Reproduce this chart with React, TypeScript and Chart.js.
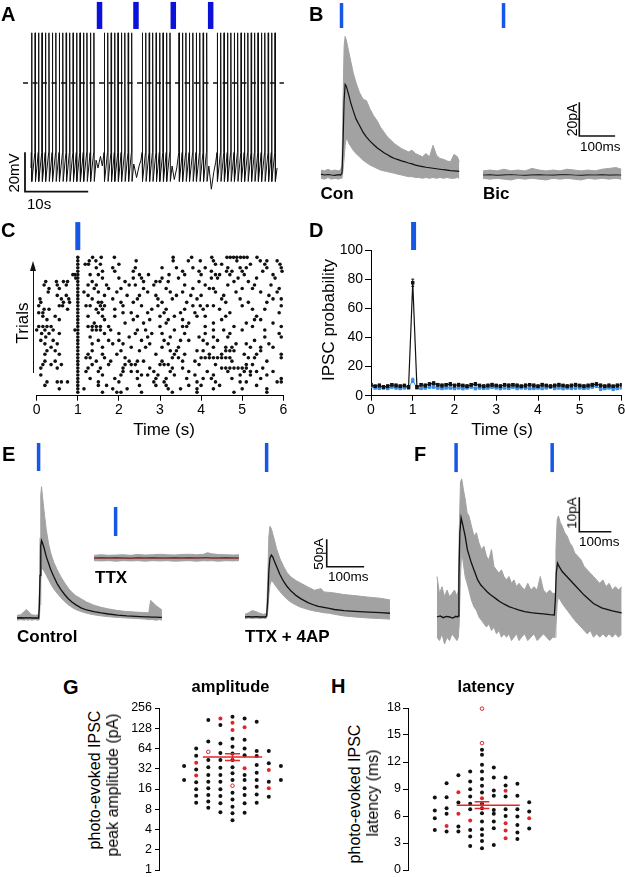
import React, { useEffect, useRef } from "react";
import { Chart, registerables } from "chart.js";

Chart.register(...registerables);

const FONT = "'Liberation Sans', Arial, Helvetica, sans-serif";
Chart.defaults.font.family = FONT;
Chart.defaults.color = "#000";

// ---------- colours ----------
const INK = "#111111";
const TRACE_GRAY = "#a2a2a2";
const STIM_A = "#0a12d8";
const STIM = "#1757e6";
const PROB_BLUE = "#3a8ee8";
const RED = "#e0262b";
const TTX_LINE = "#7d2f2f";

// ================= DATA =================
// ---- Panel A: spike train (s) ----
const spikeTimesA = [
  0.1, 0.66, 1.21, 1.77, 2.32, 2.88, 3.43, 3.99, 4.54, 5.1, 5.65, 6.21, 6.76, 7.32, 7.87, 8.43, 8.98, 9.54, 10.1,
  11.77, 12.32, 12.87, 13.42, 13.97, 14.51, 15.06, 15.61, 16.16,
  17.87, 18.42, 18.98, 19.53, 20.09, 20.64, 21.2, 21.75, 22.31,
  23.76, 24.31, 24.87, 25.42, 25.98, 26.53, 27.09, 27.64, 28.2,
  29.9, 30.45, 30.99, 31.54, 32.08, 32.63, 33.17, 33.72, 34.26, 34.81, 35.35, 35.9, 36.44, 36.99, 37.53, 38.08, 38.62, 39.17,
];
const stimTimesA = [11.0, 16.85, 22.84, 28.84];
const spikePeakA = 26; // mV
const spikeThresholdA = -36;
const spikeTroughA = -51;
const pauseTraceA: [number, number][] = [
  [0, -44],
  [10.45, -40], [10.75, -44], [11.15, -38], [11.45, -43],
  [16.5, -42], [16.95, -49], [17.35, -43], [17.65, -40],
  [22.65, -43], [23.0, -50], [23.4, -44],
  [28.55, -43], [28.95, -55], [29.35, -46], [29.65, -41],
  [39.5, -44],
];

// ---- Panel B: IPSCs (ms, pA) ----
const conTimes = [0, 10, 20, 30, 40, 50, 56, 60, 63, 66, 69, 72, 76, 80, 86, 92, 100, 110, 120, 130, 140, 150, 160, 170, 180, 190, 200, 210, 220, 230, 240, 250, 260, 270, 280, 290, 300, 310, 320, 330, 340, 350, 360, 370, 380, 390, 395];
const conMean = [0.5, 0, 0.3, 0, -0.2, 0.2, 0, 1, 20, 45, 55, 54, 51, 48, 43, 39, 34, 30, 26, 23, 20.5, 18.5, 16.5, 15, 13.5, 12.3, 11, 10, 9.3, 8.6, 8, 7.3, 6.7, 6, 5.5, 5.1, 4.7, 4.4, 4.1, 3.8, 3.5, 3.2, 3, 2.7, 2.5, 2.3, 2.2];
const conUpper = [3, 2.5, 3.5, 2.5, 3, 2.5, 3, 6, 45, 78, 84, 82, 78, 74, 68, 62, 56, 50, 46, 45, 40, 36, 33, 29, 26, 23, 21, 19, 17.5, 16, 15, 14, 15, 13, 12, 11, 13, 11, 18, 12, 10, 9.5, 8.5, 8, 12.5, 11, 8];
const conLower = [-2, -2.5, -1.5, -2.5, -2, -2.5, -2, -2, 3, 10, 18, 22, 21, 19, 17, 15, 13, 11, 9, 7.5, 6, 5, 4, 3, 2.5, 2, 1.5, 1, 0.5, 0, -0.5, -1, -1, -1.5, -1.5, -2, -1.5, -2, -1.5, -2, -1.5, -2, -1.5, -2, -2, -1.5, -2];
const bicTimes = [0, 20, 40, 60, 80, 100, 120, 140, 160, 180, 200, 220, 240, 260, 280, 300, 320, 340, 360, 380, 395];
const bicMean = [0, 0.2, -0.2, 0.1, 0.3, 0, -0.2, 0.1, 0.2, 0, -0.1, 0.2, 0.3, 0, -0.2, 0.1, 0, 0.2, -0.1, 0.1, 0];
const bicUpper = [2.5, 3, 2.5, 3.5, 2.5, 3, 2.5, 4, 3, 2.5, 3, 2.5, 3.5, 3, 2.5, 3, 2.5, 3.5, 4, 4.5, 3.5];
const bicLower = [-2, -2.5, -2, -2.5, -3, -2, -2.5, -2, -2.5, -3, -2, -2.5, -2, -2.5, -3, -2, -2.5, -2, -2.5, -2, -2.5];
const bStim = 58.6;

// ---- Panel C: raster (s), one row per trial, top trial first ----
const rasterTrials: number[][] = [
  [1.0, 1.36, 1.57, 1.89, 3.32, 3.77, 4.26, 4.63, 4.71, 4.79, 4.87, 4.96, 5.04, 5.12, 5.36],
  [1.0, 1.28, 1.44, 2.42, 3.32, 3.69, 3.98, 4.3, 4.87, 5.44, 5.6, 5.85],
  [1.0, 1.18, 1.26, 1.55, 2.0, 4.35, 4.5, 5.2, 5.55, 5.92],
  [1.0, 1.45, 1.85, 2.4, 3.05, 3.4, 3.8, 4.1, 4.65, 4.95, 5.1, 5.6, 5.95],
  [1.0, 1.6, 1.9, 2.35, 3.55, 3.95, 4.25, 4.62, 4.75, 5.0, 5.5, 5.97],
  [0.88, 0.93, 1.0, 1.3, 1.5, 2.5, 2.72, 3.22, 3.6, 4.0, 4.35, 4.45, 4.7, 5.05, 5.75],
  [0.95, 1.0, 1.6, 2.0, 2.35, 2.55, 3.05, 3.45, 4.25, 4.4, 4.9, 5.35, 5.8],
  [0.22, 0.48, 0.65, 0.75, 1.0, 1.35, 2.15, 2.6, 2.9, 3.0, 3.2, 3.95, 4.8, 5.15],
  [0.18, 0.5, 0.72, 1.0, 1.25, 1.45, 1.7, 2.25, 2.4, 2.85, 3.6, 4.1, 4.65, 5.3, 5.7],
  [0.3, 0.55, 1.0, 1.4, 1.75, 2.05, 2.6, 3.15, 3.8, 4.2, 4.3, 5.0, 5.25, 5.9],
  [0.28, 1.0, 1.15, 1.5, 1.95, 2.7, 3.25, 3.55, 4.35, 4.85, 5.45, 5.85],
  [0.5, 0.72, 1.0, 1.25, 1.65, 2.2, 2.5, 2.9, 3.4, 3.75, 4.0, 4.55, 5.65],
  [0.08, 0.6, 0.78, 1.0, 1.35, 1.85, 2.45, 2.95, 3.3, 3.9, 4.5, 4.95, 5.75, 5.95],
  [0.1, 0.65, 0.8, 1.0, 1.5, 1.58, 2.05, 2.35, 3.05, 3.65, 4.6, 5.15, 5.6],
  [0.05, 0.55, 0.63, 1.0, 1.2, 1.3, 1.55, 1.65, 2.1, 2.55, 2.95, 3.8, 3.98, 4.15, 4.3, 5.0, 5.95],
  [0.18, 0.3, 0.75, 1.0, 1.45, 1.6, 1.9, 2.8, 3.15, 3.6, 4.05, 4.45, 5.25, 5.55],
  [0.05, 0.15, 1.0, 1.5, 2.1, 2.3, 2.7, 3.1, 3.5, 3.85, 4.7, 5.9],
  [0.15, 0.45, 1.0, 1.25, 1.6, 1.9, 2.45, 3.0, 3.35, 3.9, 4.1, 4.6, 5.35],
  [0.25, 0.55, 1.0, 1.65, 2.35, 2.75, 3.2, 3.55, 4.5, 5.3, 5.45],
  [1.0, 1.4, 2.15, 2.6, 3.15, 3.7, 4.3, 5.1, 5.75],
  [0.05, 0.15, 0.25, 0.35, 1.0, 1.25, 1.35, 1.45, 1.55, 1.75, 3.0, 3.55, 3.65, 4.1, 4.8, 5.25, 5.95],
  [0.0, 0.2, 0.4, 0.93, 1.0, 1.35, 1.45, 1.55, 1.8, 2.45, 2.65, 3.35, 4.3, 4.55, 5.0, 5.55],
  [0.12, 0.3, 0.55, 1.0, 1.65, 2.0, 2.4, 2.8, 3.05, 3.6, 4.1, 4.7, 5.9],
  [0.22, 1.0, 1.3, 2.25, 2.7, 3.25, 3.95, 4.3, 4.65, 5.55, 5.95],
  [0.1, 0.4, 1.0, 1.5, 1.75, 2.0, 2.55, 3.1, 3.5, 3.7, 4.05, 4.4, 5.3],
  [0.2, 0.5, 1.0, 1.35, 1.85, 2.1, 2.75, 3.2, 4.15, 4.85, 5.1, 5.65],
  [0.35, 1.0, 1.6, 2.3, 2.65, 3.05, 3.45, 4.3, 4.6, 4.75, 5.2, 5.45, 5.75],
  [0.25, 0.45, 1.0, 1.35, 2.05, 2.5, 3.25, 3.4, 3.9, 4.05, 4.6, 4.7, 4.8, 5.45],
  [0.2, 0.55, 1.0, 1.25, 1.6, 1.95, 2.9, 3.35, 3.6, 4.2, 4.5, 5.05, 5.35, 5.95],
  [1.0, 1.2, 1.3, 1.65, 2.15, 3.3, 3.45, 4.0, 4.1, 4.2, 4.3, 4.4, 4.5, 4.6, 4.7, 5.15, 5.3, 5.95],
  [0.2, 0.45, 1.0, 1.45, 1.8, 2.25, 2.45, 2.6, 3.05, 3.55, 3.85, 4.75, 5.6],
  [0.15, 0.35, 0.6, 1.0, 1.35, 1.75, 2.15, 2.3, 2.4, 3.0, 3.1, 3.2, 3.95, 4.35, 5.1, 5.25],
  [0.1, 0.5, 1.0, 1.25, 1.55, 2.1, 2.75, 3.3, 3.55, 4.5, 4.6, 4.7, 4.8, 4.9, 5.0, 5.1, 5.5],
  [1.0, 1.2, 1.5, 2.1, 2.3, 2.45, 2.85, 3.25, 3.7, 4.15, 4.65, 5.05, 5.2, 5.35, 5.75],
  [0.1, 1.0, 1.6, 2.05, 2.55, 2.7, 2.95, 3.35, 3.85, 4.3, 4.95, 5.2, 5.6],
  [1.0, 1.3, 1.9, 2.45, 2.9, 3.15, 3.65, 4.05, 4.25, 4.75, 5.45, 5.95],
  [0.25, 0.5, 0.6, 0.75, 1.0, 1.5, 2.0, 2.85, 3.1, 3.9, 4.35, 4.95, 5.1, 5.85, 5.95],
  [0.2, 1.0, 1.5, 1.7, 2.5, 2.9, 3.15, 3.7, 4.0, 4.45, 5.35],
  [0.55, 1.0, 1.15, 1.85, 2.2, 3.2, 3.5, 3.9, 4.3, 5.0, 5.6],
  [1.0, 1.6, 1.95, 2.05, 2.55, 3.3, 3.9, 4.8, 5.6],
];
const timeTicks = [0, 1, 2, 3, 4, 5, 6];
const stimTimeCD = 1.0;

// ---- Panel D: IPSC probability (%) per 100 ms bin ----
const probBins = [0, 0.1, 0.2, 0.3, 0.4, 0.5, 0.6, 0.7, 0.8, 0.9, 1.0, 1.1, 1.2, 1.3, 1.4, 1.5, 1.6, 1.7, 1.8, 1.9, 2.0, 2.1, 2.2, 2.3, 2.4, 2.5, 2.6, 2.7, 2.8, 2.9, 3.0, 3.1, 3.2, 3.3, 3.4, 3.5, 3.6, 3.7, 3.8, 3.9, 4.0, 4.1, 4.2, 4.3, 4.4, 4.5, 4.6, 4.7, 4.8, 4.9, 5.0, 5.1, 5.2, 5.3, 5.4, 5.5, 5.6, 5.7, 5.8, 5.9, 6.0];
const probBlack = [7.5, 6.5, 7, 6, 6.5, 7.5, 7, 6.5, 7, 6, 77.5, 6, 7.5, 7, 8, 8.5, 7.5, 7, 7.5, 8, 7, 7.5, 7, 6.5, 7.5, 8, 7, 6.5, 7, 7.5, 7, 6.5, 7.5, 7, 7.5, 7, 6.5, 7, 7.5, 7, 6.5, 7.5, 7, 6.5, 7, 7.5, 7, 6.5, 7, 7.5, 7, 6.5, 7, 7.5, 8, 7, 6.5, 7, 6.5, 7, 7.5];
const semBlack = [1, 0.8, 1, 0.9, 1, 0.8, 1, 0.9, 0.8, 1, 2.5, 1, 0.9, 1, 0.8, 1, 0.9, 1, 0.8, 1, 0.9, 1, 0.8, 1, 0.9, 1, 0.8, 1, 0.9, 1, 0.8, 1, 0.9, 1, 0.8, 1, 0.9, 1, 0.8, 1, 0.9, 1, 0.8, 1, 0.9, 1, 0.8, 1, 0.9, 1, 0.8, 1, 0.9, 1, 0.8, 1, 0.9, 1, 0.8, 1, 0.9];
const probBlue = [6.5, 5.5, 5, 5.5, 5, 6, 5.5, 5, 5.5, 5.5, 10.5, 5.5, 5, 5.5, 6, 6, 5.5, 5, 5.5, 5.5, 5, 5.5, 5, 5.5, 6, 5, 5.5, 5, 5.5, 6, 5.5, 5, 5.5, 5, 6, 5, 5.5, 5.5, 5, 5, 5.5, 5, 5.5, 6, 5, 5.5, 5, 5.5, 5, 5.5, 5.5, 5, 5.5, 6, 6.5, 4.5, 5, 5.5, 4.5, 5, 5.5];
const semBlue = [1, 0.9, 0.8, 1, 0.9, 0.8, 1, 0.9, 0.8, 1, 1.5, 0.9, 0.8, 1, 0.9, 0.8, 1, 0.9, 0.8, 1, 0.9, 0.8, 1, 0.9, 0.8, 1, 0.9, 0.8, 1, 0.9, 0.8, 1, 0.9, 0.8, 1, 0.9, 0.8, 1, 0.9, 0.8, 1, 0.9, 0.8, 1, 0.9, 0.8, 1, 0.9, 0.8, 1, 0.9, 0.8, 1, 0.9, 0.8, 1, 0.9, 0.8, 1, 0.9, 0.8];
const probTicks = [0, 20, 40, 60, 80, 100];

// ---- Panel E: Control / TTX / TTX + 4AP (ms, pA) ----
const ctrlTimes = [0, 10, 20, 25, 30, 35, 40, 50, 56, 59, 61, 63, 65, 67, 70, 74, 80, 86, 92, 100, 110, 120, 130, 140, 150, 160, 175, 190, 210, 230, 250, 275, 300, 325, 350, 360, 365, 370, 380, 390, 396];
const ctrlMean = [0, 0.5, 0, 0.5, 0, 0.5, 0, 0.3, 0, 0, 20, 80, 135, 145, 140, 131, 115, 103, 91, 78, 64, 53, 44, 36, 30, 25, 19, 15, 12, 9.5, 7.5, 5.5, 4, 3, 2.2, 2, 1.8, 1.7, 1.5, 1.2, 1];
const ctrlUpper = [5, 6, 12, 16, 13, 9, 6, 5, 6, 6, 50, 150, 230, 246, 225, 200, 165, 140, 122, 105, 90, 77, 66, 56, 48, 42, 36, 30, 24, 20, 17, 14, 12, 11, 10, 10, 33, 30, 23, 18, 15];
const ctrlLower = [-4, -3, -4, -3, -4, -3, -4, -3, -4, -4, -3, 25, 70, 90, 92, 88, 80, 72, 64, 55, 46, 38, 31, 25, 20, 16, 12, 9, 6, 4, 2.5, 1, 0, -1, -2, -3, -3, -3, -4, -3, -4];
const ttxTimes = [0, 20, 40, 60, 80, 100, 120, 140, 160, 180, 200, 220, 240, 260, 280, 300, 310, 320, 340, 360, 380, 396];
const ttxMean = [0, 0.3, -0.2, 0.2, 0, -0.3, 0.2, 0, 0.3, -0.2, 0, 0.2, -0.2, 0.3, 0, 0.2, 0.3, 0, -0.2, 0.2, 0, 0.1];
const ttxUpper = [5, 6, 5, 5.5, 6, 5, 6.5, 5.5, 6, 7, 6, 5.5, 6.5, 7, 6, 7, 10, 8, 6.5, 6, 5.5, 6];
const ttxLower = [-5, -5.5, -5, -6, -5, -5.5, -5, -6, -5, -5.5, -5, -6, -5.5, -5, -6, -5, -5.5, -5, -6, -5, -5.5, -5];
const apTimes = [0, 10, 20, 30, 40, 50, 56, 59, 62, 65, 68, 72, 76, 80, 86, 95, 105, 115, 125, 140, 153, 172, 190, 200, 208, 215, 230, 244, 270, 300, 339, 370, 396];
const apMean = [0, 0.5, 0, 0.5, 0, 0.3, 0, 2, 30, 85, 110, 116, 112, 105, 95, 80, 67, 57, 49, 40, 34, 27, 22, 20, 19, 18, 16, 14, 12, 10.5, 9, 8, 7];
const apUpper = [5, 8, 12, 10, 7, 5, 6, 8, 70, 150, 170, 165, 155, 145, 128, 110, 95, 83, 75, 68, 63, 56, 50, 52, 53, 47, 46, 45, 42, 40, 37, 35, 32];
const apLower = [-3, -2, -3, -2, -3, -2, -3, -2, 10, 40, 60, 68, 66, 62, 56, 48, 40, 33, 28, 22, 18, 14, 11, 10, 9, 8, 7, 5, 2, 0, -2, -3, -4];
const eStim = 59;

// ---- Panel F: paired light pulses (ms, pA) ----
const fTimes = [0, 10, 20, 30, 40, 50, 60, 66, 68, 70, 73, 77, 82, 90, 97, 110, 120, 130, 140, 150, 160, 170, 180, 190, 200, 215, 230, 245, 260, 280, 300, 320, 340, 360, 375, 378, 381, 385, 390, 400, 420, 440, 470, 500, 526, 560, 590];
const fMean = [0, 0.3, -0.2, 0.2, 0, -0.3, 0.2, 0, 0.3, 12, 25, 29.5, 27.5, 24, 20, 16, 13.5, 11, 9.5, 8.5, 7.5, 6.7, 6, 5.3, 4.6, 3.8, 3.1, 2.6, 2.1, 1.6, 1.3, 1.1, 0.9, 0.7, 0.6, 5, 13, 16, 15, 13.5, 11.5, 9.5, 6.5, 4, 2.7, 1.8, 1.2];
const fBandTimes = [0, 8, 16, 24, 32, 40, 48, 56, 64, 68, 71, 75, 79, 84, 90, 96, 102, 110, 118, 126, 134, 142, 150, 158, 166, 174, 182, 190, 198, 206, 214, 222, 230, 238, 246, 254, 262, 270, 280, 290, 300, 310, 320, 330, 340, 350, 360, 370, 377, 380, 384, 388, 394, 400, 408, 416, 424, 432, 440, 450, 460, 470, 480, 490, 500, 510, 520, 530, 540, 550, 560, 570, 580, 590];
const fUpper = [12, 7, 9, 6, 8, 6, 7, 8, 6, 8, 25, 40, 41, 38, 35, 31, 30, 27, 24, 25, 22, 20, 21, 18, 17, 20, 15, 14, 13, 14, 12, 11, 12, 10, 11, 9, 10, 9, 8, 10, 8, 9, 8, 12, 8, 7, 8, 7, 7, 20, 29, 30, 28, 27, 25, 24, 22, 21, 19, 18, 17, 15, 14, 13, 12, 11, 10, 11, 9, 10, 8, 9, 8, 9];
const fLower = [-6, -7, -5, -8, -6, -7, -5, -6, -7, -6, -2, 12, 20, 16, 12, 10, 8, 5, 3, 2, 0, -1, -2, -3, -2, -4, -3, -5, -4, -6, -5, -6, -5, -7, -6, -5, -7, -6, -5, -7, -6, -5, -7, -6, -5, -6, -7, -6, -6, -3, 4, 6, 5, 4, 3, 2, 1, 0, -1, -2, -3, -4, -5, -4, -6, -5, -6, -5, -6, -5, -6, -5, -6, -5];
const fStim = [61, 368];

// ---- Panel G: amplitude (pA), dots per swarm column ----
const ampBlack: number[][] = [
  [35.2, 21.8],
  [64, 50, 31.3, 20.1, 15.8, 12.7, 10],
  [170, 81, 43, 33.6, 25.8, 20.5, 16.4, 13, 10.4, 8.4],
  [143, 76, 55, 43, 33.2, 25.8, 20.5, 15.8, 12.6, 9.8, 7.2],
  [190, 89, 68, 54, 43, 33.6, 27.4, 21.8, 14.1, 11.2, 8.7, 7, 5.5],
  [178, 86, 64, 51, 25.8, 21.8, 16.4, 13, 9.8, 7.1],
  [160, 59, 49.5, 36.4, 28, 21.8, 17.3, 13.3, 10],
  [59, 38.6, 20.5, 12.3],
  [35.2, 21.8],
];
const ampRed: number[][] = [[], [39.4, 25.3], [], [178], [155, 121], [132, 32.5], [], [30.7, 16.4], []];
const ampOpen: number[][] = [[], [], [57], [], [17.9], [], [], [], []];
const ampMean = 48;
const ampSem = 5.7;
const ampTicks = [1, 2, 4, 8, 16, 32, 64, 128, 256];

// ---- Panel H: latency (ms), dots per swarm column ----
const latBlack: number[][] = [
  [8.06, 6.6, 5.75, 4.45],
  [9.65, 8.09, 6.87, 6.24, 4.27],
  [10.54, 7.5, 4.83, 4.27],
  [10.95, 9.84, 8.98, 8.17, 7.35, 6.76, 4.45, 3.71, 2.67],
  [13.36, 12.81, 11.69, 10.95, 10.1, 9.35, 8.61, 7.35, 6.87, 6.31, 5.38, 4.53, 3.9, 3.23, 2.41],
  [11.4, 10.28, 8.83, 8.24, 6.68, 6.24, 5.38, 4.64, 2.78],
  [10.28, 9.39, 8.17, 6.76, 6.01],
  [9.58, 8.24, 6.76, 5.94, 5.01, 4.16, 3.45],
  [7.54, 6.5, 4.6],
];
const latRed: number[][] = [[], [4.9], [8.65, 6.24], [5.49], [7.98], [], [8.8, 5.2, 4.38, 3.53], [], [5.75]];
const latOpen: number[][] = [[], [], [], [], [17.93, 14.1], [], [], [], []];
const latMean = 7.2;
const latSem = 0.37;
const latTicks = [0, 3, 6, 9, 12, 15, 18];

// ================= LAYOUT (page pixels -> axis ranges) =================
const BOX_A = { left: 0, top: 0, width: 300, height: 200 };
const BOX_B = { left: 305, top: 0, width: 320, height: 200 };
const BOX_C = { left: 0, top: 210, width: 300, height: 235 };
const BOX_D = { left: 305, top: 210, width: 320, height: 235 };
const BOX_E = { left: 0, top: 430, width: 400, height: 220 };
const BOX_F = { left: 410, top: 430, width: 215, height: 230 };
const BOX_G = { left: 120, top: 690, width: 185, height: 187 };
const BOX_H = { left: 375, top: 690, width: 200, height: 187 };

const BIC_OFFSET = 462.9; // ms shift of the Bic trace
const TTX_DX = 210.4;
const TTX_DY = 112.4;
const AP_DX = 623;
const AP_DY = 1.9;

// ================= helpers =================
type P = { x: number; y: number | null };
const series = (t: number[], v: number[], dx = 0, dy = 0): P[] => t.map((ti, i) => ({ x: ti + dx, y: v[i] + dy }));

const line = (data: P[], color: string, width: number, order: number, extra: Record<string, unknown> = {}) => ({
  type: "line",
  data,
  borderColor: color,
  backgroundColor: color,
  borderWidth: width,
  pointRadius: 0,
  pointHoverRadius: 0,
  tension: 0,
  fill: false,
  order,
  ...extra,
});

const band = (t: number[], lo: number[], hi: number[], dx = 0, dy = 0) => [
  line(series(t, lo, dx, dy), TRACE_GRAY, 1, 3),
  line(series(t, hi, dx, dy), TRACE_GRAY, 1, 3, { fill: "-1", backgroundColor: TRACE_GRAY }),
];

const vbar = (x: number, y0: number, y1: number, color: string, width: number) =>
  line([{ x, y: y0 }, { x, y: y1 }], color, width, 0, { clip: false, borderCapStyle: "butt" });

const scaleBar = (x: number, y: number, dy: number, dx: number, w = 1.6) =>
  line([{ x, y: y + dy }, { x, y }, { x: x + dx, y }], INK, w, 0, { clip: false, borderCapStyle: "square" });

const errorBars = (t: number[], m: number[], s: number[], cap: number): P[] => {
  const out: P[] = [];
  t.forEach((x, i) => {
    const lo = m[i] - s[i];
    const hi = m[i] + s[i];
    out.push({ x, y: lo }, { x, y: hi }, { x, y: null });
    out.push({ x: x - cap, y: hi }, { x: x + cap, y: hi }, { x, y: null });
    out.push({ x: x - cap, y: lo }, { x: x + cap, y: lo }, { x, y: null });
  });
  return out;
};

const swarm = (cols: number[][]): P[] => cols.flatMap((vals, c) => vals.map((v) => ({ x: c - (cols.length - 1) / 2, y: v })));

const baseOptions = (scales: any, padding: any = 0) => ({
  responsive: false,
  animation: false,
  events: [],
  layout: { padding, autoPadding: false },
  plugins: { legend: { display: false }, tooltip: { enabled: false }, title: { display: false } },
  scales,
});

const hidden = (x0: number, x1: number, y0: number, y1: number) => ({
  x: { type: "linear", display: false, min: x0, max: x1 },
  y: { type: "linear", display: false, min: y0, max: y1 },
});

const axisX = (h: number) => ({
  type: "linear",
  min: timeTicks[0],
  max: timeTicks[timeTicks.length - 1],
  afterBuildTicks: (s: any) => {
    s.ticks = timeTicks.map((v) => ({ value: v }));
  },
  ticks: { font: { size: 14, lineHeight: 1 }, padding: 2, color: "#000", maxRotation: 0, autoSkip: false },
  grid: { display: true, drawOnChartArea: false, drawTicks: true, tickLength: 5, color: "#000", lineWidth: 1 },
  border: { display: true, color: "#000", width: 1 },
  afterFit: (s: any) => {
    s.height = h;
    s.paddingLeft = 0;
    s.paddingRight = 0;
  },
});

const axisY = (base: any, tickValues: number[], w: number, tickLen: number, pad: number, size: number) => ({
  ...base,
  afterBuildTicks: (s: any) => {
    s.ticks = tickValues.map((v) => ({ value: v }));
  },
  ticks: { font: { size, lineHeight: 1 }, padding: pad, color: "#000", callback: (v: any) => String(v), autoSkip: false },
  grid: { display: true, drawOnChartArea: false, drawTicks: true, tickLength: tickLen, color: "#000", lineWidth: 1 },
  border: { display: true, color: "#000", width: 1 },
  afterFit: (s: any) => {
    s.width = w;
    s.paddingTop = 0;
    s.paddingBottom = 0;
  },
});

// ================= chart configs =================
const buildSpikeTrain = (): P[] => {
  const p: { x: number; y: number }[] = [];
  spikeTimesA.forEach((t) => {
    p.push({ x: t - 0.04, y: spikeThresholdA });
    p.push({ x: t, y: spikePeakA });
    p.push({ x: t + 0.06, y: spikeTroughA });
  });
  pauseTraceA.forEach(([x, y]) => p.push({ x, y }));
  return p.sort((a, b) => a.x - b.x);
};

const makeA = () => ({
  type: "line",
  data: {
    datasets: [
      line(buildSpikeTrain(), INK, 1, 1),
      line([{ x: -1.28, y: 0 }, { x: 40.6, y: 0 }], INK, 1.3, 2, { borderDash: [5, 4.5] }),
      scaleBar(-0.963, -56.3, 20, 10, 1.8),
      ...stimTimesA.map((t) => vbar(t, 28, 42, STIM_A, 5.5)),
    ],
  },
  options: baseOptions(hidden(-4.976, 43.18, -60.6, 43.0)),
});

const makeB = () => ({
  type: "line",
  data: {
    datasets: [
      ...band(conTimes, conLower, conUpper),
      line(series(conTimes, conMean), INK, 1.2, 1),
      ...band(bicTimes, bicLower, bicUpper, BIC_OFFSET),
      line(series(bicTimes, bicMean, BIC_OFFSET), "#333", 1.2, 1),
      vbar(bStim, 89.1, 104.2, STIM, 3.5),
      vbar(BIC_OFFSET + bStim, 89.1, 104.2, STIM, 3.5),
      scaleBar(738, 23.6, 20, 100),
    ],
  },
  options: baseOptions(hidden(-45.71, 868.57, -15.15, 106.06)),
});

const makeC = () => ({
  type: "scatter",
  data: {
    datasets: [
      {
        data: rasterTrials.flatMap((row, i) => row.map((t) => ({ x: t, y: rasterTrials.length - i }))),
        pointRadius: 1.8,
        pointHoverRadius: 0,
        backgroundColor: INK,
        borderWidth: 0,
        order: 1,
        clip: false,
      },
      vbar(stimTimeCD, 42.1, 50.2, STIM, 5),
    ],
  },
  options: baseOptions(
    { x: axisX(49.3), y: { type: "linear", display: false, min: 0.017, max: 53.69 } },
    { left: 36.7, right: 16.7, top: 0, bottom: 0 }
  ),
});

const makeD = () => ({
  type: "line",
  data: {
    datasets: [
      line(errorBars(probBins, probBlack, semBlack, 0.035), INK, 1, 1),
      line(errorBars(probBins, probBlue, semBlue, 0.035), PROB_BLUE, 1, 3),
      line(series(probBins, probBlack), INK, 1.2, 0, {
        pointRadius: 2.4,
        pointStyle: "rect",
        pointBackgroundColor: INK,
        pointBorderWidth: 0,
      }),
      line(series(probBins, probBlue), PROB_BLUE, 1, 2, {
        pointRadius: 2.4,
        pointStyle: "rect",
        pointBackgroundColor: PROB_BLUE,
        pointBorderWidth: 0,
      }),
      vbar(stimTimeCD + 0.02, 100, 119.2, STIM, 5),
    ],
  },
  options: baseOptions(
    {
      x: axisX(49.3),
      y: axisY({ type: "linear", min: 0, max: 100 }, probTicks, 66, 6, 2, 14),
    },
    { left: 0, right: 3.5, top: 40, bottom: 0 }
  ),
});

const makeE = () => ({
  type: "line",
  data: {
    datasets: [
      ...band(ctrlTimes, ctrlLower, ctrlUpper),
      line(series(ctrlTimes, ctrlMean), INK, 1.3, 1),
      ...band(ttxTimes, ttxLower, ttxUpper, TTX_DX, TTX_DY),
      line(series(ttxTimes, ttxMean, TTX_DX, TTX_DY), TTX_LINE, 1.5, 1),
      ...band(apTimes, apLower, apUpper, AP_DX, AP_DY),
      line(series(apTimes, apMean, AP_DX, AP_DY), INK, 1.3, 1),
      vbar(eStim, 275.3, 327.7, STIM, 3.5),
      vbar(TTX_DX + eStim, TTX_DY + 41.2, TTX_DY + 95.5, STIM, 3.5),
      vbar(AP_DX + eStim, 273.4, 327.7, STIM, 3.5),
      scaleBar(846.2, 96.1, 50, 100),
    ],
  },
  options: baseOptions(hidden(-46.45, 1046.4, -59.93, 352.06)),
});

const makeF = () => ({
  type: "line",
  data: {
    datasets: [
      ...band(fBandTimes, fLower, fUpper),
      line(series(fTimes, fMean), INK, 1.3, 1),
      ...fStim.map((t) => vbar(t, 43.0, 51.6, STIM, 3.5)),
      scaleBar(454.6, 25.3, 10, 100),
    ],
  },
  options: baseOptions(hidden(-86.26, 600.64, -12.76, 55.49)),
});

const swarmConfig = (
  black: number[][],
  red: number[][],
  open: number[][],
  mean: number,
  sem: number,
  meanSpan: [number, number],
  yScale: any,
  xr: [number, number]
) => ({
  type: "scatter",
  data: {
    datasets: [
      line([{ x: meanSpan[0], y: mean }, { x: meanSpan[1], y: mean }], RED, 1.5, 0),
      line(errorBars([0], [mean], [sem], 0.62), RED, 1.5, 0),
      { data: swarm(black), pointRadius: 2, pointHoverRadius: 0, backgroundColor: INK, borderWidth: 0, order: 2, clip: false },
      { data: swarm(red), pointRadius: 2, pointHoverRadius: 0, backgroundColor: RED, borderWidth: 0, order: 1, clip: false },
      { data: swarm(open), pointRadius: 1.8, pointHoverRadius: 0, backgroundColor: "#fff", borderColor: RED, borderWidth: 1, order: 1, clip: false },
    ],
  },
  options: baseOptions(
    { x: { type: "linear", display: false, min: xr[0], max: xr[1] }, y: yScale },
    { left: 0, right: 0, top: 18, bottom: 7 }
  ),
});

const makeG = () =>
  swarmConfig(
    ampBlack, ampRed, ampOpen, ampMean, ampSem, [-2.45, 2.45],
    axisY({ type: "logarithmic", min: 1, max: 256 }, ampTicks, 39, 4, 3, 12.5),
    [-6.074, 5.992]
  );

const makeH = () =>
  swarmConfig(
    latBlack, latRed, latOpen, latMean, latSem, [-2.15, 3.2],
    axisY({ type: "linear", min: 0, max: 18 }, latTicks, 33, 5, 2, 12.5),
    [-6.271, 7.882]
  );

// ================= components =================
function ChartBox({ box, make }: { box: { left: number; top: number; width: number; height: number }; make: () => any }) {
  const ref = useRef<HTMLCanvasElement | null>(null);
  useEffect(() => {
    if (!ref.current) return;
    const chart = new Chart(ref.current, make());
    return () => chart.destroy();
  }, []);
  return (
    <canvas
      ref={ref}
      width={box.width}
      height={box.height}
      style={{ position: "absolute", left: box.left, top: box.top, width: box.width, height: box.height }}
    />
  );
}

type TextSpec = { t: string; x: number; y: number; s: number; b?: boolean; align?: "left" | "center" };
// y = baseline
const texts: TextSpec[] = [
  { t: "A", x: 1, y: 21, s: 20, b: true },
  { t: "B", x: 309, y: 21, s: 20, b: true },
  { t: "C", x: 1, y: 237, s: 20, b: true },
  { t: "D", x: 309, y: 237, s: 20, b: true },
  { t: "E", x: 2, y: 461, s: 20, b: true },
  { t: "F", x: 414, y: 461, s: 20, b: true },
  { t: "G", x: 63, y: 694, s: 20, b: true },
  { t: "H", x: 331, y: 693, s: 20, b: true },
  { t: "10s", x: 27, y: 209, s: 15 },
  { t: "Con", x: 320.5, y: 199.5, s: 17, b: true },
  { t: "Bic", x: 483, y: 199.5, s: 17, b: true },
  { t: "100ms", x: 580, y: 151, s: 13.5 },
  { t: "Time (s)", x: 164, y: 435, s: 17, align: "center" },
  { t: "Time (s)", x: 502, y: 435, s: 17, align: "center" },
  { t: "TTX", x: 95, y: 583, s: 17, b: true },
  { t: "Control", x: 17, y: 642.5, s: 17, b: true },
  { t: "TTX + 4AP", x: 245, y: 642.5, s: 17, b: true },
  { t: "100ms", x: 328, y: 581, s: 13.5 },
  { t: "100ms", x: 579, y: 546, s: 13.5 },
  { t: "amplitude", x: 230.5, y: 691.5, s: 16.5, b: true, align: "center" },
  { t: "latency", x: 486, y: 691.5, s: 16.5, b: true, align: "center" },
];

type VTextSpec = { t: string; cx: number; cy: number; s: number };
const vtexts: VTextSpec[] = [
  { t: "20mV", cx: 12.5, cy: 173, s: 15 },
  { t: "20pA", cx: 572, cy: 120, s: 14 },
  { t: "Trials", cx: 22, cy: 323, s: 17 },
  { t: "IPSC probability", cx: 328, cy: 320, s: 17 },
  { t: "50pA", cx: 319, cy: 554, s: 13.5 },
  { t: "10pA", cx: 572, cy: 513, s: 13.5 },
  { t: "photo-evoked IPSC", cx: 95, cy: 780, s: 16 },
  { t: "peak amplitude (pA)", cx: 112.5, cy: 785, s: 16 },
  { t: "photo-evoked IPSC", cx: 355, cy: 794, s: 16 },
  { t: "latency (ms)", cx: 373, cy: 792.5, s: 16 },
];

function Txt({ spec }: { spec: TextSpec }) {
  const { t, x, y, s, b, align } = spec;
  return (
    <div
      style={{
        position: "absolute",
        left: x,
        top: y - 0.8465 * s,
        fontSize: s,
        lineHeight: `${s}px`,
        fontWeight: b ? 700 : 400,
        fontFamily: FONT,
        whiteSpace: "nowrap",
        transform: align === "center" ? "translateX(-50%)" : undefined,
        color: "#000",
      }}
    >
      {t}
    </div>
  );
}

function VTxt({ spec }: { spec: VTextSpec }) {
  const { t, cx, cy, s } = spec;
  return (
    <div
      style={{
        position: "absolute",
        left: cx,
        top: cy,
        fontSize: s,
        lineHeight: `${s}px`,
        fontFamily: FONT,
        whiteSpace: "nowrap",
        transform: "translate(-50%, -50%) rotate(-90deg)",
        color: "#000",
      }}
    >
      {t}
    </div>
  );
}

export default function App() {
  return (
    <div
      style={{
        position: "absolute",
        left: 0,
        top: 0,
        width: 625,
        height: 877,
        background: "#fff",
        overflow: "hidden",
        fontFamily: FONT,
      }}
    >
      <ChartBox box={BOX_A} make={makeA} />
      <ChartBox box={BOX_B} make={makeB} />
      <ChartBox box={BOX_C} make={makeC} />
      <ChartBox box={BOX_D} make={makeD} />
      <ChartBox box={BOX_E} make={makeE} />
      <ChartBox box={BOX_F} make={makeF} />
      <ChartBox box={BOX_G} make={makeG} />
      <ChartBox box={BOX_H} make={makeH} />
      {/* Trials arrow */}
      <div style={{ position: "absolute", left: 32.7, top: 269, width: 1.3, height: 104, background: INK }} />
      <div
        style={{
          position: "absolute",
          left: 29.8,
          top: 261,
          width: 0,
          height: 0,
          borderLeft: "3.6px solid transparent",
          borderRight: "3.6px solid transparent",
          borderBottom: "10px solid " + INK,
        }}
      />
      {texts.map((s, i) => (
        <Txt key={"t" + i} spec={s} />
      ))}
      {vtexts.map((s, i) => (
        <VTxt key={"v" + i} spec={s} />
      ))}
    </div>
  );
}
